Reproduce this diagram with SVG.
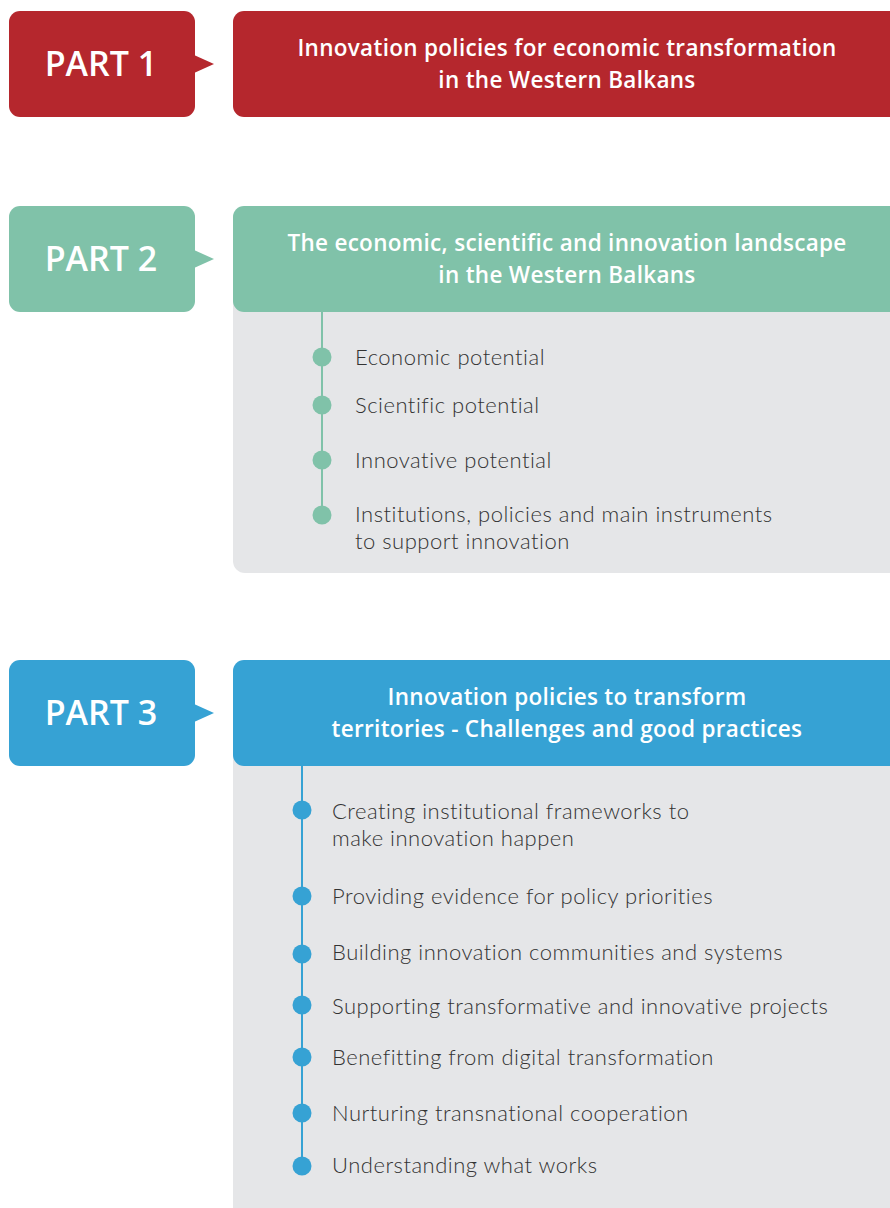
<svg xmlns="http://www.w3.org/2000/svg" width="890" height="1208" viewBox="0 0 890 1208">
<style>
.part{font-family:"Open Sans","Liberation Sans",sans-serif;font-size:34px;font-weight:600;fill:#fff}
.title{font-family:"Open Sans","Liberation Sans",sans-serif;font-size:22.5px;font-weight:600;letter-spacing:0.3px;fill:#fff;text-anchor:middle}
.item{font-family:Lato,"Open Sans","Liberation Sans",sans-serif;font-size:22px;font-weight:300;letter-spacing:0.5px;fill:#333}
.panel{fill:#e5e6e8}
</style>
<rect width="890" height="1208" fill="#fff"/>
<g id="part1">
<rect x="9" y="11" width="186" height="106" rx="11" fill="#b5272d"/>
<polygon points="194,55 214,64 194,73" fill="#b5272d"/>
<text class="part" x="101" y="76" text-anchor="middle">PART 1</text>
</g>
<g id="title1">
<rect x="233" y="11" width="670" height="106" rx="11" fill="#b5272d"/>
<text class="title" x="567" y="56">Innovation policies for economic transformation</text>
<text class="title" x="567" y="88">in the Western Balkans</text>
</g>
<g id="part2">
<rect x="9" y="206" width="186" height="106" rx="11" fill="#80c2a9"/>
<polygon points="194,250 214,259 194,268" fill="#80c2a9"/>
<text class="part" x="101" y="271" text-anchor="middle">PART 2</text>
</g>
<g id="panel2">
<rect class="panel" x="233" y="260" width="670" height="313" rx="12"/>
<rect x="233" y="206" width="670" height="106" rx="11" fill="#80c2a9"/>
<text class="title" x="567" y="251">The economic, scientific and innovation landscape</text>
<text class="title" x="567" y="283">in the Western Balkans</text>
</g>
<g id="part3">
<rect x="9" y="660" width="186" height="106" rx="11" fill="#36a2d4"/>
<polygon points="194,704 214,713 194,722" fill="#36a2d4"/>
<text class="part" x="101" y="725" text-anchor="middle">PART 3</text>
</g>
<g id="panel3">
<rect class="panel" x="233" y="714" width="670" height="520" rx="12"/>
<rect x="233" y="660" width="670" height="106" rx="11" fill="#36a2d4"/>
<text class="title" x="567" y="705">Innovation policies to transform</text>
<text class="title" x="567" y="737">territories - Challenges and good practices</text>
</g>
<g id="connectors">
<line x1="322" y1="312" x2="322" y2="515" stroke="#80c2a9" stroke-width="2"/>
<line x1="302" y1="766" x2="302" y2="1166" stroke="#36a2d4" stroke-width="2"/>
</g>
<g id="items2" fill="#80c2a9">
<circle cx="322" cy="357" r="9.5"/><text class="item" x="355" y="365">Economic potential</text>
<circle cx="322" cy="405" r="9.5"/><text class="item" x="355" y="413">Scientific potential</text>
<circle cx="322" cy="460" r="9.5"/><text class="item" x="355" y="468">Innovative potential</text>
<circle cx="322" cy="515" r="9.5"/><text class="item" x="355" y="522">Institutions, policies and main instruments</text>
<text class="item" x="355" y="549">to support innovation</text>
</g>
<g id="items3" fill="#36a2d4">
<circle cx="302" cy="810" r="9.5"/><text class="item" x="332" y="819">Creating institutional frameworks to</text>
<text class="item" x="332" y="846">make innovation happen</text>
<circle cx="302" cy="896" r="9.5"/><text class="item" x="332" y="904">Providing evidence for policy priorities</text>
<circle cx="302" cy="954" r="9.5"/><text class="item" x="332" y="960">Building innovation communities and systems</text>
<circle cx="302" cy="1005" r="9.5"/><text class="item" x="332" y="1014">Supporting transformative and innovative projects</text>
<circle cx="302" cy="1057" r="9.5"/><text class="item" x="332" y="1065">Benefitting from digital transformation</text>
<circle cx="302" cy="1113" r="9.5"/><text class="item" x="332" y="1121">Nurturing transnational cooperation</text>
<circle cx="302" cy="1166" r="9.5"/><text class="item" x="332" y="1173">Understanding what works</text>
</g>
</svg>
